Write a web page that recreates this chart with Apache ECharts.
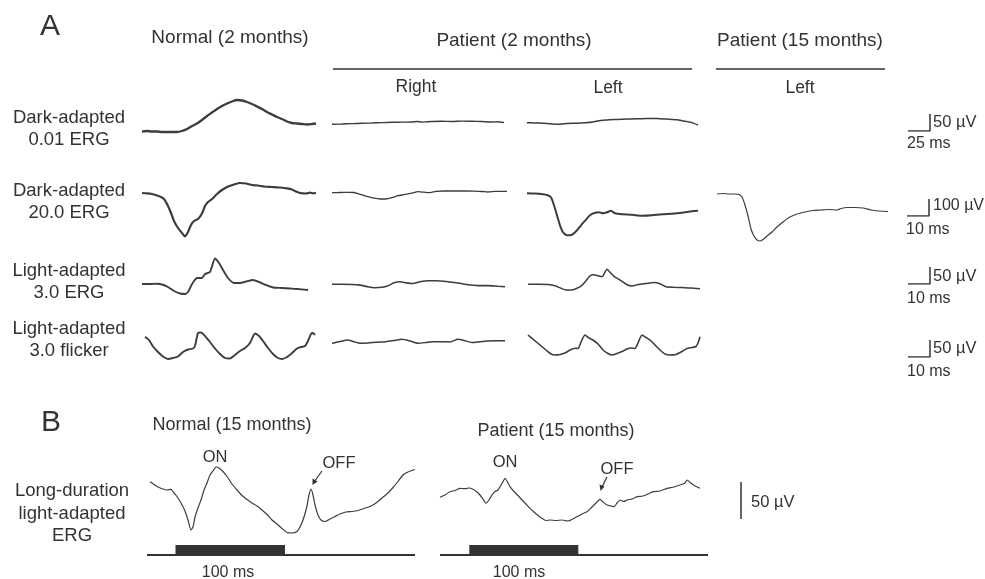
<!DOCTYPE html>
<html><head><meta charset="utf-8">
<script src="https://cdn.jsdelivr.net/npm/echarts@6/dist/echarts.min.js"></script>
<style>html,body{margin:0;padding:0;background:#fff}#c{width:985px;height:579px}</style>
</head><body><div id="c"></div><script>
// ---- traces: [time (px-scaled ms), amplitude (px-scaled µV, up = positive)] ----
const normalDark001 = [[0,0],[5,0.5],[10,0],[15,0],[20,-0.5],[25,-0.5],[30,-0.5],[35,-0.5],[40,0.5],[45,2.5],[50,5.5],[55,8],[60,11.5],[65,15.5],[70,19],[75,22.5],[80,25.5],[85,28],[90,30],[95,31.5],[100,31],[105,29.5],[110,27.5],[115,25],[120,22.5],[125,19.5],[130,17],[135,14.5],[140,12.5],[145,10],[150,8.5],[155,8],[160,7.5],[165,7],[170,7.5],[174,8]];
const normalDark200 = [[0,0],[5,-0.3],[10,-1],[15,-2.5],[19,-4],[22,-6],[26,-13],[29,-20],[32,-28],[36,-35],[40,-40],[43,-43.5],[46,-39],[49,-32],[52,-28],[56,-26],[60,-20.5],[63,-13],[66,-9],[70,-6],[75,-1],[80,3],[86,6.5],[92,8.5],[98,10],[104,9.5],[110,8],[116,7.5],[122,6.5],[130,6],[138,5.5],[145,4.7],[150,3.5],[154,1.5],[158,0],[164,-0.5],[168,0.3],[171,-0.3],[174,0.3]];
const normalLight30 = [[0,0],[8,0],[15,0.3],[20,-0.5],[26,-3],[32,-7],[38,-9.5],[43,-10],[46,-8],[49,-2],[52,3],[55,6],[60,6],[63,10],[68,12],[73,25.5],[77,21],[81,14],[86,6],[92,1],[98,1],[104,2.5],[111,4],[117,2],[124,-1],[131,-3.5],[140,-4],[148,-4.5],[156,-5],[166,-6]];
const normalFlicker = [[0,8.3],[4,5],[8,-1.5],[13,-7],[18,-11.5],[23,-14],[28,-13],[33,-11.5],[38,-7],[43,-4.5],[48,-3.5],[50,-1],[53,12],[56,12.5],[60,9],[65,3],[70,-3.5],[75,-9],[80,-13],[85,-13.5],[90,-10],[95,-6],[100,-3],[105,2],[110,11.5],[114,9],[118,4],[123,-3],[128,-9],[133,-13],[137,-14],[142,-12],[147,-8],[152,-3.5],[156,-2],[160,-1],[163,4],[166,11],[168,12],[170,10]];
const patRight001 = [[0,0],[10,0.3],[20,0.7],[30,1],[40,1.3],[50,1.7],[60,2],[70,2.2],[80,2.3],[85,2.8],[90,2.2],[95,2.6],[100,2.8],[110,3],[120,2.8],[130,3.2],[140,3],[150,2.8],[160,2.3],[165,2.6],[172,1.8]];
const patRight200 = [[0,0],[8,0.2],[16,0.3],[22,0.2],[26,-1],[31,-2.5],[36,-4],[42,-5.5],[48,-6.3],[54,-6.3],[60,-5],[66,-3],[72,-2],[80,-0.5],[86,1],[92,0.5],[98,0],[104,1.3],[112,1.7],[122,1.7],[132,1.7],[142,1.5],[150,1.2],[156,0.7],[163,1.3],[175,1.4]];
const patRight30 = [[0,0],[10,0],[20,-0.2],[28,-0.8],[36,-2.5],[42,-3.4],[50,-3],[56,-1.5],[62,1.5],[68,2.5],[74,1.5],[80,0.8],[88,2.5],[96,3.5],[104,3.5],[112,3],[120,2],[128,1],[136,-0.5],[146,-1.3],[156,-1.3],[166,-2],[173,-2.4]];
const patRightFlicker = [[0,-1.3],[8,0.5],[16,2],[22,0.3],[28,-1.3],[36,-1],[44,-0.3],[54,0.3],[62,1.5],[70,2.7],[78,1],[86,-1.3],[94,-0.5],[100,0.3],[110,0.3],[118,0],[126,2.7],[132,1.5],[140,-0.5],[148,0.3],[156,1],[164,1.3],[173,1.3]];
const patLeft001 = [[0,0],[8,-0.2],[16,-0.6],[25,-1.3],[33,-1.6],[40,-0.8],[50,-0.5],[58,0],[66,0.8],[72,2],[80,2.8],[90,3.2],[100,3.6],[110,4],[120,4.3],[130,4.2],[140,3.6],[150,3],[156,1.8],[164,0.3],[171,-2.3]];
const patLeft200 = [[0,0],[8,-0.3],[16,-1],[20,-1.7],[24,-4],[27,-12],[30,-22],[33,-32],[36,-39],[40,-42],[45,-41.5],[50,-37],[54,-32],[58,-27.5],[63,-22],[68,-19.5],[72,-19],[76,-20],[80,-19],[84,-17.5],[88,-20],[95,-21],[105,-21.5],[115,-22.5],[125,-22],[135,-21],[145,-20.5],[155,-19.5],[165,-18],[171,-17.5]];
const patLeft30 = [[0,0],[10,0],[20,-0.3],[27,-1.5],[33,-4],[38,-5.7],[44,-5.7],[49,-4],[54,-1],[58,3.5],[62,8.5],[66,9.5],[70,8.5],[74,7.5],[79,15],[82,12],[86,8],[90,5.5],[94,3],[99,-0.5],[104,-1.7],[110,-0.3],[118,0.7],[126,1.7],[132,0.5],[138,-2.5],[146,-3],[155,-3.3],[163,-3.6],[172,-4.4]];
const patLeftFlicker = [[0,10],[6,5],[12,0],[18,-5],[23,-9],[27,-10],[32,-9.5],[37,-8],[42,-5],[47,-3.3],[50,-3.5],[53,3],[57,10],[61,7],[65,5],[70,1],[75,-5],[80,-8.5],[84,-10],[89,-8.5],[94,-6.5],[99,-4],[103,-3],[107,-3.5],[110,2],[114,10],[118,7.5],[122,5],[127,0],[132,-5],[137,-9],[142,-10],[148,-9.5],[154,-6.5],[159,-3.5],[164,-2.5],[168,-1.5],[170,2],[172,8.3]];
const pat15Left200 = [[0,0],[6,0.5],[12,0],[18,0],[22,-0.5],[25,-3],[28,-11],[31,-22],[34,-35],[37,-42],[40,-46],[43,-47],[46,-45.5],[50,-42],[55,-38],[60,-33],[66,-28],[72,-23.5],[80,-20],[88,-18],[96,-16.5],[104,-16],[112,-15.5],[120,-16],[124,-14.5],[130,-13.5],[138,-13.5],[146,-14],[154,-16],[162,-17],[171,-17.5]];
const normalLong = [[0,18.3],[4,15.5],[8,13],[13,11],[17,10],[21,10.7],[23,8.3],[27,3.5],[31,-3],[35,-11],[38,-20],[41,-30],[43,-27],[45,-17],[48,-8],[51,0],[54,10],[57,17],[60,25],[63,29],[66,33],[69,32],[73,28.5],[77,23.5],[82,16],[87,10],[92,4.5],[97,0.5],[102,-3],[107,-6],[112,-10],[117,-14.5],[122,-20],[127,-24],[132,-28.5],[137,-32.5],[142,-33],[147,-31.5],[151,-25],[154,-17],[157,-6],[159,5],[161,11],[163,5],[165,-5],[168,-15],[171,-20],[175,-21.5],[180,-19],[185,-16.5],[190,-14],[196,-12],[202,-11.5],[208,-10.5],[214,-8.5],[220,-6.5],[226,-3],[232,2],[238,7],[243,12.5],[248,18.5],[253,25],[258,28],[265,30.5]];
const patientLong = [[0,2.7],[5,5],[10,8.3],[15,9.5],[20,11.7],[25,11.3],[29,12],[33,10.7],[37,8],[40,5],[43,1],[46,-3.3],[49,0],[52,5],[55,8.5],[58,10],[61,15],[63,18.3],[65,21.7],[67,19],[70,13.3],[74,8.5],[78,4.5],[82,0],[86,-4],[90,-8.3],[94,-12],[98,-15.5],[102,-18.5],[106,-20.5],[110,-20],[116,-20.5],[122,-20],[128,-21],[132,-19.5],[137,-16.7],[142,-14],[147,-11.7],[151,-8],[154,-5],[157,-2],[160,0.7],[163,-2],[167,-5],[171,-6],[174,-6.7],[177,-3],[180,0],[184,-1.5],[187,0],[192,1],[197,3.3],[203,4],[208,6],[213,8.3],[220,9],[227,11.7],[234,13],[240,15],[245,17],[247,20],[251,16.7],[255,14],[260,11.7]];
// stimulus timing: [start, on, off, end]
const stimNormal = [0, 28.5, 138, 268];
const stimPatient = [0, 29.3, 138.3, 268];
// scale bars
const scaleMs = [25, 10, 10, 10];
const scaleUv = [50, 100, 50, 50];
const scaleBUv = 50;

// ---- layout ----
const INK = '#3d3d3d';
const traceLayout = [
  {d: normalDark001, left: 142, base: 131.5, w: 2.3},
  {d: normalDark200, left: 142, base: 193, w: 2.2},
  {d: normalLight30, left: 142, base: 284, w: 1.9},
  {d: normalFlicker, left: 145, base: 345, w: 1.9},
  {d: patRight001, left: 332, base: 124.3, w: 1.4},
  {d: patRight200, left: 332, base: 192.7, w: 1.3},
  {d: patRight30, left: 332, base: 284.3, w: 1.6},
  {d: patRightFlicker, left: 332, base: 342, w: 1.5},
  {d: patLeft001, left: 527, base: 122.7, w: 1.5},
  {d: patLeft200, left: 527, base: 193.3, w: 2.0},
  {d: patLeft30, left: 528, base: 284.3, w: 1.5},
  {d: patLeftFlicker, left: 528, base: 345, w: 1.6},
  {d: pat15Left200, left: 717, base: 194, w: 1.2},
  {d: normalLong, left: 150, base: 500, w: 1.2},
  {d: patientLong, left: 440, base: 500, w: 1.2}
];
const grids = [], xAxes = [], yAxes = [], series = [];
function addGrid(g, xr, yr) {
  const i = grids.length;
  grids.push(Object.assign({containLabel: false, show: false}, g));
  xAxes.push({type: 'value', gridIndex: i, min: xr[0], max: xr[1], show: false});
  yAxes.push({type: 'value', gridIndex: i, min: yr[0], max: yr[1], show: false});
  return i;
}
traceLayout.forEach(t => {
  const maxT = t.d[t.d.length - 1][0];
  const i = addGrid({left: t.left, top: t.base - 60, width: maxT, height: 120}, [0, maxT], [-60, 60]);
  series.push({type: 'line', xAxisIndex: i, yAxisIndex: i, data: t.d, showSymbol: false, symbol: 'none',
    smooth: 0.2, lineStyle: {color: INK, width: t.w}, silent: true});
});
// stimulus bars
[[stimNormal, 147], [stimPatient, 440]].forEach(([s, left]) => {
  const i = addGrid({left: left, top: 545, width: s[3] - s[0], height: 10}, [s[0], s[3]], [0, 10]);
  series.push({type: 'line', xAxisIndex: i, yAxisIndex: i, data: [[s[0], 0], [s[3], 0]], symbol: 'none',
    lineStyle: {color: '#333', width: 2}, silent: true});
  series.push({type: 'line', xAxisIndex: i, yAxisIndex: i, data: [[s[1], 5], [s[2], 5]], symbol: 'none',
    lineStyle: {color: '#333', width: 10, cap: 'butt'}, silent: true});
});
// calibration bars (A)
const barBoxes = [{left: 908, top: 114}, {left: 907, top: 199}, {left: 908, top: 267}, {left: 908, top: 340}];
barBoxes.forEach((b, k) => {
  const i = addGrid({left: b.left, top: b.top, width: 22, height: 17}, [0, scaleMs[k]], [0, scaleUv[k]]);
  series.push({type: 'line', xAxisIndex: i, yAxisIndex: i,
    data: [[0, 0], [scaleMs[k], 0], [scaleMs[k], scaleUv[k]]], symbol: 'none',
    lineStyle: {color: '#333', width: 1.5}, silent: true});
});
// calibration bar (B)
{
  const i = addGrid({left: 741, top: 482, width: 10, height: 37}, [0, 1], [0, scaleBUv]);
  series.push({type: 'line', xAxisIndex: i, yAxisIndex: i, data: [[0, 0], [0, scaleBUv]], symbol: 'none',
    lineStyle: {color: '#333', width: 1.5}, silent: true});
}

// ---- texts ----
const FONT = '"Liberation Sans", Arial, sans-serif';
function txt(text, x, y, size, align) {
  return {type: 'text', silent: true, style: {text: text, x: x, y: y, fill: '#333',
    font: size + 'px ' + FONT, fontSize: size, fontFamily: FONT,
    align: align || 'center', textAlign: align || 'center', verticalAlign: 'middle', textVerticalAlign: 'middle'}};
}
const graphics = [
  txt('A', 50, 27, 30), txt('B', 51, 423, 30),
  txt('Normal (2 months)', 230, 38, 19),
  txt('Patient (2 months)', 514, 41, 19),
  txt('Patient (15 months)', 800, 41, 19),
  txt('Right', 416, 87, 17.5), txt('Left', 608, 88, 17.5), txt('Left', 800, 88, 17.5),
  txt('Dark-adapted', 69, 118, 18.5), txt('0.01 ERG', 69, 140, 18.5),
  txt('Dark-adapted', 69, 191, 18.5), txt('20.0 ERG', 69, 213, 18.5),
  txt('Light-adapted', 69, 271, 18.5), txt('3.0 ERG', 69, 293, 18.5),
  txt('Light-adapted', 69, 329, 18.5), txt('3.0 flicker', 69, 351, 18.5),
  txt('Long-duration', 72, 491, 18.5), txt('light-adapted', 72, 514, 18.5), txt('ERG', 72, 536, 18.5),
  txt('Normal (15 months)', 232, 425, 18), txt('Patient (15 months)', 556, 431, 18),
  txt('ON', 215, 457, 16.5), txt('OFF', 339, 463, 16.5),
  txt('ON', 505, 462, 16.5), txt('OFF', 617, 469, 16.5),
  txt('100 ms', 228, 573, 16), txt('100 ms', 519, 573, 16),
  txt('50 µV', 933, 122, 16.5, 'left'), txt('25 ms', 907, 144, 16, 'left'),
  txt('100 µV', 933, 206, 16, 'left'), txt('10 ms', 906, 230, 16, 'left'),
  txt('50 µV', 933, 276, 16.5, 'left'), txt('10 ms', 907, 299, 16, 'left'),
  txt('50 µV', 933, 348, 16.5, 'left'), txt('10 ms', 907, 372, 16, 'left'),
  txt('50 µV', 751, 502, 16.5, 'left'),
  {type: 'line', silent: true, shape: {x1: 333, y1: 69, x2: 692, y2: 69}, style: {stroke: '#333', lineWidth: 1.5}},
  {type: 'line', silent: true, shape: {x1: 716, y1: 69, x2: 885, y2: 69}, style: {stroke: '#333', lineWidth: 1.5}},
  {type: 'line', silent: true, shape: {x1: 322, y1: 471, x2: 314, y2: 482}, style: {stroke: '#333', lineWidth: 1.2}},
  {type: 'polygon', silent: true, shape: {points: [[312.5, 485], [312.5, 478.5], [317.5, 481.5]]}, style: {fill: '#333'}},
  {type: 'line', silent: true, shape: {x1: 607, y1: 477, x2: 602, y2: 487}, style: {stroke: '#333', lineWidth: 1.2}},
  {type: 'polygon', silent: true, shape: {points: [[600.5, 491], [599.5, 484.5], [604.5, 486.5]]}, style: {fill: '#333'}}
];

const chart = echarts.init(document.getElementById('c'), null, {renderer: 'canvas'});
chart.setOption({
  backgroundColor: '#ffffff',
  animation: false,
  grid: grids, xAxis: xAxes, yAxis: yAxes, series: series,
  graphic: {elements: graphics}
});
</script></body></html>
